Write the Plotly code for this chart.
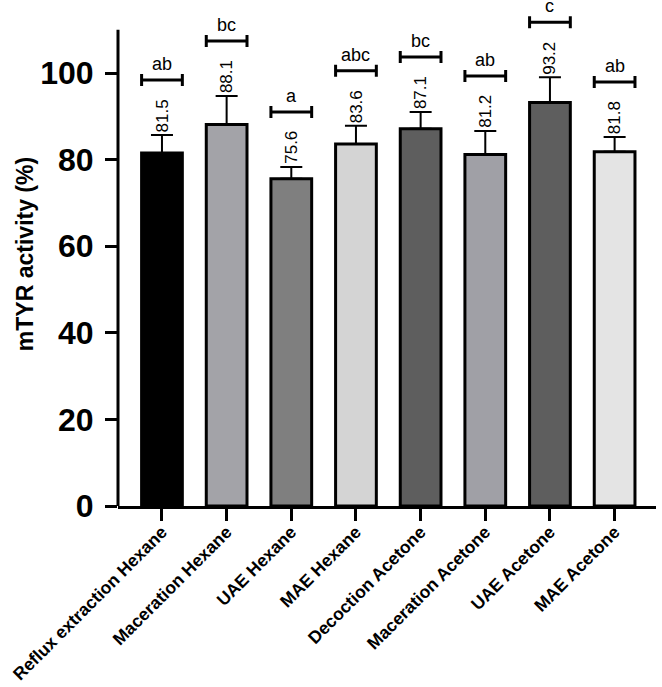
import plotly.graph_objects as go

categories = ["Reflux extraction Hexane", "Maceration Hexane", "UAE Hexane", "MAE Hexane",
              "Decoction Acetone", "Maceration Acetone", "UAE Acetone", "MAE Acetone"]
means = [81.5, 88.1, 75.6, 83.6, 87.1, 81.2, 93.2, 81.8]
sds = [4.2, 6.6, 2.7, 4.2, 3.9, 5.4, 5.8, 3.4]
letters = ["ab", "bc", "a", "abc", "bc", "ab", "c", "ab"]
value_labels = ["81.5", "88.1", "75.6", "83.6", "87.1", "81.2", "93.2", "81.8"]
colors = ["#000000", "#a3a3a8", "#7f7f7f", "#d4d4d4", "#5e5e5e", "#a0a0a6", "#5e5e5e", "#e4e4e4"]
yticks = [0, 20, 40, 60, 80, 100]

FONT = "Liberation Sans, Arial, sans-serif"
x = list(range(len(categories)))
bar_w = 0.63
bracket_offset = 12.7

fig = go.Figure()
fig.add_trace(go.Bar(
    x=x, y=means, width=bar_w,
    marker=dict(color=colors, line=dict(color="black", width=3)),
    error_y=dict(type="data", symmetric=False, array=sds, arrayminus=[0] * len(sds),
                 color="black", thickness=2, width=11),
    showlegend=False, hoverinfo="skip",
))

bracket_y = [m + s + bracket_offset for m, s in zip(means, sds)]
fig.add_trace(go.Scatter(
    x=x, y=bracket_y, mode="markers",
    marker=dict(size=1, color="rgba(0,0,0,0)"),
    error_x=dict(type="constant", value=bar_w / 2, color="black", thickness=3, width=6),
    showlegend=False, hoverinfo="skip",
))

for i in x:
    fig.add_annotation(x=i, y=means[i] + sds[i], text=value_labels[i], textangle=-90,
                       showarrow=False, xanchor="center", yanchor="bottom", yshift=1,
                       font=dict(family=FONT, size=17, color="black"))
    fig.add_annotation(x=i, y=bracket_y[i], text=letters[i], showarrow=False,
                       xanchor="center", yanchor="bottom", yshift=5, borderpad=0,
                       font=dict(family=FONT, size=18, color="black"))

# y axis line only up to 110
fig.add_shape(type="line", xref="paper", x0=0, x1=0, yref="y", y0=0, y1=110,
              line=dict(color="black", width=3))

fig.update_layout(
    width=662, height=687,
    margin=dict(l=118, r=6, t=2, b=181),
    plot_bgcolor="white", paper_bgcolor="white",
    bargap=0.37,
    xaxis=dict(range=[-0.68, 7.64], tickvals=x, ticktext=categories, tickangle=-45,
               automargin=False, ticklabelstandoff=-6,
               showline=True, linecolor="black", linewidth=3,
               ticks="outside", ticklen=12, tickwidth=3, tickcolor="black",
               tickfont=dict(family=FONT, size=17.5, color="black", weight="bold"),
               showgrid=False, zeroline=False),
    yaxis=dict(range=[0, 116.4], tickvals=yticks, ticktext=[str(v) for v in yticks],
               automargin=False, ticklabelstandoff=5,
               showline=False, ticks="outside", ticklen=12, tickwidth=3, tickcolor="black",
               tickfont=dict(family=FONT, size=32, color="black", weight="bold"),
               showgrid=False, zeroline=False,
               title=dict(text="mTYR activity (%)", standoff=0,
                          font=dict(family=FONT, size=23, color="black", weight="bold"))),
)

fig.write_html("out.html", config={"displayModeBar": False},
               post_script="document.body.style.margin='0';")
